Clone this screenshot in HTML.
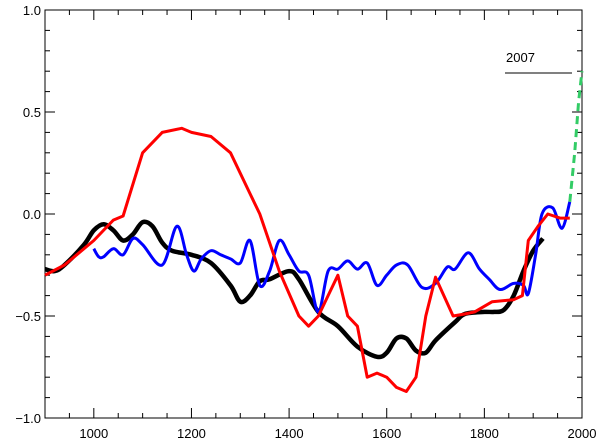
<!DOCTYPE html>
<html><head><meta charset="utf-8"><style>
html,body{margin:0;padding:0;background:#fff;}
svg{display:block;font-family:"Liberation Sans",sans-serif;}
</style></head><body>
<svg id="chart" width="605" height="447" viewBox="0 0 605 447" xmlns="http://www.w3.org/2000/svg">
<g id="axes"></g>
<g id="series"></g>
<text x="506" y="62" font-size="13">2007</text>
<line x1="505" y1="73" x2="572" y2="73" stroke="#000" stroke-width="1"/>
</svg>
<script>
const xTicks=[1000,1200,1400,1600,1800,2000];
const yTicks=[-1.0,-0.5,0.0,0.5,1.0];
const yTickLabels=["\u22121.0","\u22120.5","0.0","0.5","1.0"];
const redYears=[900,940,1000,1040,1060,1100,1140,1180,1200,1240,1280,1320,1340,1380,1420,1440,1460,1480,1500,1520,1540,1560,1580,1600,1620,1640,1660,1680,1700,1736,1760,1780,1816,1860,1878,1890,1910,1930,1955,1975];
const redVals=[-0.3,-0.25,-0.13,-0.03,-0.01,0.3,0.4,0.42,0.4,0.38,0.3,0.1,0.0,-0.28,-0.5,-0.55,-0.5,-0.4,-0.3,-0.5,-0.55,-0.8,-0.78,-0.8,-0.85,-0.87,-0.8,-0.5,-0.31,-0.5,-0.49,-0.48,-0.43,-0.42,-0.4,-0.13,-0.06,0.0,-0.02,-0.02];
const blackYears=[900,920,940,980,1000,1020,1040,1060,1080,1100,1120,1140,1160,1200,1240,1280,1300,1320,1340,1360,1400,1420,1460,1500,1540,1580,1600,1620,1640,1660,1680,1700,1740,1760,1800,1820,1840,1860,1880,1900,1920];
const blackVals=[-0.27,-0.28,-0.25,-0.15,-0.08,-0.05,-0.08,-0.13,-0.1,-0.04,-0.06,-0.14,-0.18,-0.2,-0.24,-0.35,-0.43,-0.4,-0.33,-0.32,-0.28,-0.32,-0.48,-0.55,-0.65,-0.7,-0.68,-0.61,-0.61,-0.67,-0.68,-0.62,-0.53,-0.49,-0.48,-0.48,-0.47,-0.4,-0.28,-0.18,-0.12];
const blueYears=[1000,1010,1020,1040,1060,1080,1100,1140,1170,1190,1205,1220,1240,1260,1280,1300,1320,1340,1360,1380,1400,1420,1440,1460,1480,1500,1520,1540,1560,1580,1600,1620,1643,1672,1700,1724,1740,1767,1790,1810,1832,1860,1880,1890,1905,1918,1940,1959,1975];
const blueVals=[-0.17,-0.21,-0.21,-0.17,-0.2,-0.12,-0.15,-0.25,-0.06,-0.2,-0.28,-0.22,-0.18,-0.2,-0.22,-0.24,-0.13,-0.35,-0.28,-0.13,-0.2,-0.28,-0.3,-0.48,-0.28,-0.27,-0.23,-0.27,-0.24,-0.35,-0.3,-0.25,-0.25,-0.36,-0.34,-0.26,-0.27,-0.19,-0.27,-0.32,-0.37,-0.34,-0.35,-0.39,-0.2,0.0,0.03,-0.07,0.06];
const greenYears=[1975,1985,1993,2000];
const greenVals=[0.06,0.3,0.55,0.7];

const L=45,R=582,T=10,B=418,X0=900,X1=2000,Y0=-1,Y1=1;
const sx=v=>L+(v-X0)/(X1-X0)*(R-L);
const sy=v=>B-(v-Y0)/(Y1-Y0)*(B-T);
const NS="http://www.w3.org/2000/svg";
function mk(tag,attrs,parent){const e=document.createElementNS(NS,tag);for(const k in attrs)e.setAttribute(k,attrs[k]);parent.appendChild(e);return e;}
const axes=document.getElementById('axes');
const frame=mk('rect',{x:L,y:T,width:R-L,height:B-T,fill:'none',stroke:'#000','stroke-width':1},axes);


for(let yr=900;yr<=2000;yr+=50){
  const major=yr%200===0;const len=major?10:5;const x=sx(yr);
  const t1=mk('line',{x1:x,y1:B,x2:x,y2:B-len,stroke:'#000'},axes);
  
  
  const t2=mk('line',{x1:x,y1:T,x2:x,y2:T+len,stroke:'#000'},axes);
  
  
}
xTicks.forEach(v=>{const t=mk('text',{x:sx(v),y:B+20,'font-size':13,'text-anchor':'middle'},axes);t.textContent=String(v);
  
  });
for(let i=0;i<=20;i++){
  const v=-1+i*0.1;const major=i%5===0;const len=major?10:5;const y=sy(v);
  const t1=mk('line',{x1:L,y1:y,x2:L+len,y2:y,stroke:'#000'},axes);
  
  
  const t2=mk('line',{x1:R,y1:y,x2:R-len,y2:y,stroke:'#000'},axes);
  
  
}
yTicks.forEach((v,i)=>{const t=mk('text',{x:L-4,y:sy(v)+5,'font-size':13,'text-anchor':'end'},axes);t.textContent=yTickLabels[i];
  
  });
const series=document.getElementById('series');
function pathD(xs,ys,smooth){
  const p=xs.map((x,i)=>[sx(x),sy(ys[i])]);
  if(!smooth)return p.map((q,i)=>(i?'L':'M')+q[0].toFixed(1)+','+q[1].toFixed(1)).join(' ');
  let d='M'+p[0][0].toFixed(1)+','+p[0][1].toFixed(1);
  for(let i=0;i<p.length-1;i++){
    const p0=p[Math.max(0,i-1)],p1=p[i],p2=p[i+1],p3=p[Math.min(p.length-1,i+2)];
    const c1=[p1[0]+(p2[0]-p0[0])/6,p1[1]+(p2[1]-p0[1])/6];
    const c2=[p2[0]-(p3[0]-p1[0])/6,p2[1]-(p3[1]-p1[1])/6];
    d+=' C'+c1[0].toFixed(1)+','+c1[1].toFixed(1)+' '+c2[0].toFixed(1)+','+c2[1].toFixed(1)+' '+p2[0].toFixed(1)+','+p2[1].toFixed(1);
  }
  return d;
}
function line(xs,ys,color,w,name,smooth,dash){
  const p=mk('path',{d:pathD(xs,ys,smooth),fill:'none',stroke:color,'stroke-width':w,'stroke-linejoin':'round'},series);
  if(dash)p.setAttribute('stroke-dasharray',dash);
  
  
}
line(blackYears,blackVals,'#000',4.5,'black-series-line',true);
line(blueYears,blueVals,'#0000ff',3,'blue-series-line',true);
line(redYears,redVals,'#ff0000',3,'red-series-line',false);
line(greenYears,greenVals,'#33cc66',3,'green-dashed-series-line',false,'8,5');
</script>
</body></html>
